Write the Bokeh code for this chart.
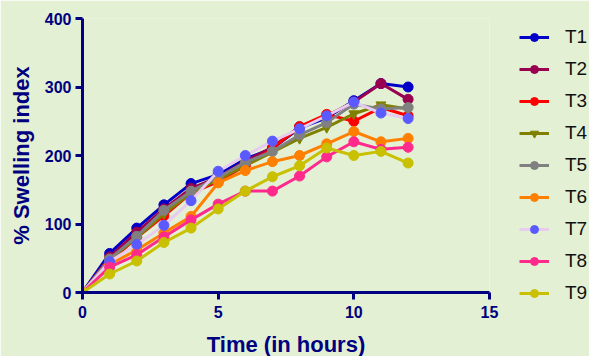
from bokeh.plotting import figure
from bokeh.models import Range1d, Legend, LegendItem, FixedTicker
from bokeh.embed import file_html
from bokeh.resources import INLINE

hours = [0, 1, 2, 3, 4, 5, 6, 7, 8, 9, 10, 11, 12]
T1 = [0, 57, 94, 128, 159, 172, 195, 210, 240, 255, 280, 305, 300]
T2 = [0, 52, 88, 122, 152, 168, 192, 212, 242, 258, 278, 305, 282]
T3 = [0, 45, 80, 112, 145, 162, 185, 210, 242, 260, 250, 270, 258]
T4 = [0, 48, 80, 115, 145, 165, 185, 205, 225, 241, 261, 274, 268]
T5 = [0, 49, 82, 120, 148, 168, 190, 206, 230, 248, 275, 268, 270]
T6 = [0, 41, 62, 87, 111, 160, 178, 191, 200, 217, 235, 220, 225]
T7 = [0, 45, 70, 98, 134, 177, 200, 221, 239, 258, 278, 262, 254]
T8 = [0, 37, 55, 81, 106, 129, 148, 148, 170, 198, 220, 209, 212]
T9 = [0, 27, 46, 73, 94, 122, 148, 169, 185, 211, 200, 206, 189]

names = ["T1", "T2", "T3", "T4", "T5", "T6", "T7", "T8", "T9"]
series = [T1, T2, T3, T4, T5, T6, T7, T8, T9]
line_colors = ["#0000C8", "#990050", "#FF0000", "#808000", "#808080",
               "#FF8000", "#E8CCF0", "#FF2A8C", "#C8C000"]
marker_colors = ["#0000C8", "#990050", "#FF0000", "#808000", "#808080",
                 "#FF8000", "#5A5AFF", "#FF2A8C", "#C8C000"]
markers = ["circle", "circle", "circle", "inverted_triangle", "circle",
           "circle", "circle", "circle", "circle"]

x_ticks = [0, 5, 10, 15]
y_ticks = [0, 100, 200, 300, 400]

navy = "#000080"
bg = "#E3F0D4"

p = figure(frame_width=407, frame_height=274, width=589, height=356,
           output_backend="svg", toolbar_location=None,
           x_range=Range1d(0, 15), y_range=Range1d(0, 400),
           min_border_left=82, min_border_right=100,
           min_border_top=18, min_border_bottom=64)
p.background_fill_color = bg
p.border_fill_color = bg
p.outline_line_color = None
p.grid.visible = False

for ax in (p.xaxis[0], p.yaxis[0]):
    ax.axis_line_color = navy
    ax.axis_line_width = 3
    ax.major_tick_line_color = navy
    ax.major_tick_line_width = 3
    ax.major_tick_out = 7
    ax.major_tick_in = 0
    ax.minor_tick_line_color = None
    ax.major_label_text_color = navy
    ax.major_label_text_font = "Liberation Sans"
    ax.major_label_text_font_style = "bold"
    ax.major_label_text_font_size = "16px"
    ax.axis_label_text_color = navy
    ax.axis_label_text_font = "Liberation Sans"
    ax.axis_label_text_font_style = "bold"
    ax.axis_label_text_font_size = "22px"

p.xaxis[0].ticker = FixedTicker(ticks=x_ticks)
p.yaxis[0].ticker = FixedTicker(ticks=y_ticks)
p.xaxis[0].axis_label = "Time (in hours)"
p.yaxis[0].axis_label = "% Swelling index"
p.xaxis[0].major_label_standoff = 6
p.yaxis[0].major_label_standoff = 4
p.xaxis[0].axis_label_standoff = 11
p.yaxis[0].axis_label_standoff = 8

items = []
for name, ys, lc, mc, mk in zip(names, series, line_colors, marker_colors, markers):
    r1 = p.line(hours, ys, line_color=lc, line_width=3)
    r2 = p.scatter(hours, ys, marker=mk, size=10, fill_color=mc, line_color=mc)
    items.append(LegendItem(label=name, renderers=[r1, r2]))

legend = Legend(items=items, location=(30, -12),
                glyph_width=30, glyph_height=20, label_height=20,
                spacing=10, padding=0, margin=0, label_standoff=16,
                label_text_font="Liberation Sans", label_text_font_size="19px",
                label_text_color="#111111",
                background_fill_alpha=0, border_line_color=None)
p.add_layout(legend, "right")

open("out.html", "w").write(file_html(p, INLINE))
